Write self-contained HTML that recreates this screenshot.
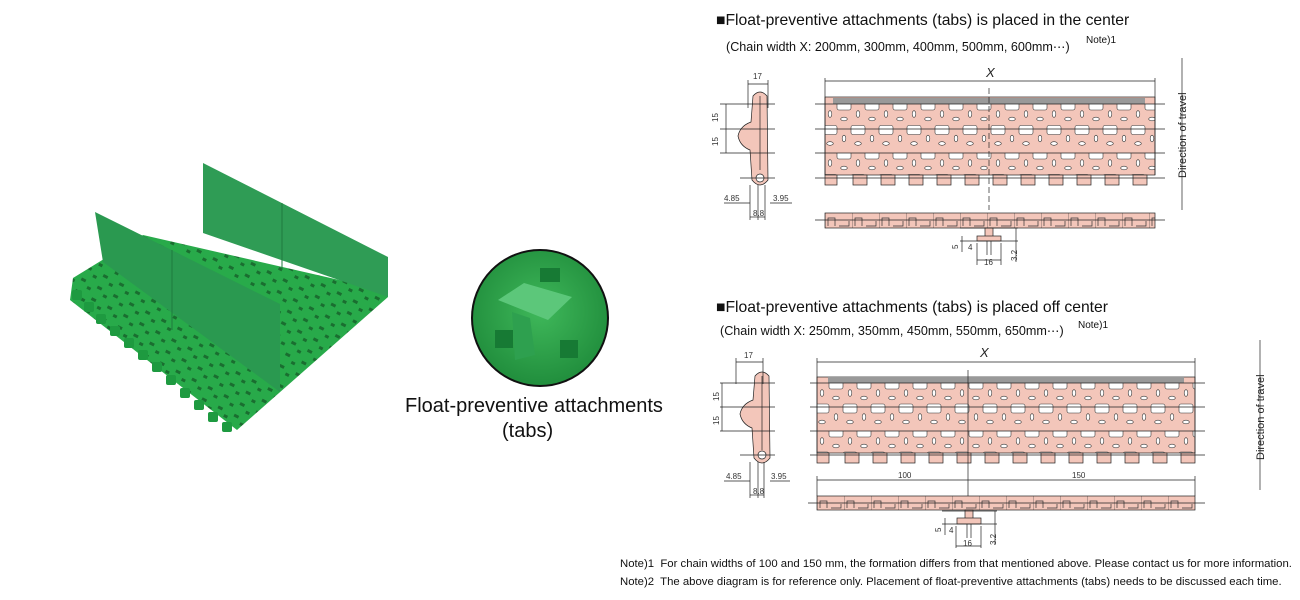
<!DOCTYPE html>
<html><head><meta charset="utf-8"><style>
html,body{margin:0;padding:0;background:#fff;}
body{width:1300px;height:600px;overflow:hidden;position:relative;font-family:"Liberation Sans",sans-serif;}
.t{position:absolute;white-space:nowrap;color:#111;}
</style></head><body>
<svg width="1300" height="600" style="position:absolute;left:0;top:0" xmlns="http://www.w3.org/2000/svg">
<defs>
<pattern id="pk" x="825" y="104" width="28" height="49" patternUnits="userSpaceOnUse">
<rect width="28" height="49" fill="#f3c6ba"/>
<rect x="12" y="-3" width="14" height="9" rx="2" fill="#fff" stroke="#333" stroke-width="0.6"/>
<ellipse cx="5" cy="10" rx="1.8" ry="3.3" fill="#fff" stroke="#333" stroke-width="0.6"/>
<ellipse cx="19" cy="15" rx="3.3" ry="1.8" fill="#fff" stroke="#333" stroke-width="0.6"/>
<rect x="-2" y="21.5" width="14" height="9" rx="2" fill="#fff" stroke="#333" stroke-width="0.6"/>
<rect x="26" y="21.5" width="14" height="9" rx="2" fill="#fff" stroke="#333" stroke-width="0.6"/>
<ellipse cx="19" cy="34.5" rx="1.8" ry="3.3" fill="#fff" stroke="#333" stroke-width="0.6"/>
<ellipse cx="5" cy="39.5" rx="3.3" ry="1.8" fill="#fff" stroke="#333" stroke-width="0.6"/>
</pattern>
<pattern id="pk2" x="817" y="383" width="28" height="48" patternUnits="userSpaceOnUse">
<rect width="28" height="48" fill="#f3c6ba"/>
<rect x="12" y="-3" width="14" height="9" rx="2" fill="#fff" stroke="#333" stroke-width="0.6"/>
<ellipse cx="5" cy="10" rx="1.8" ry="3.3" fill="#fff" stroke="#333" stroke-width="0.6"/>
<ellipse cx="19" cy="15" rx="3.3" ry="1.8" fill="#fff" stroke="#333" stroke-width="0.6"/>
<rect x="-2" y="21" width="14" height="9" rx="2" fill="#fff" stroke="#333" stroke-width="0.6"/>
<rect x="26" y="21" width="14" height="9" rx="2" fill="#fff" stroke="#333" stroke-width="0.6"/>
<ellipse cx="19" cy="34" rx="1.8" ry="3.3" fill="#fff" stroke="#333" stroke-width="0.6"/>
<ellipse cx="5" cy="39" rx="3.3" ry="1.8" fill="#fff" stroke="#333" stroke-width="0.6"/>
</pattern>
<pattern id="st" x="825" y="213" width="27" height="15" patternUnits="userSpaceOnUse">
<rect width="27" height="15" fill="#f3c6ba"/>
<path d="M3 13 V5 H10 V13 M14 13 H24 V8" fill="none" stroke="#333" stroke-width="0.7"/>
<line x1="0" y1="0" x2="0" y2="15" stroke="#333" stroke-width="0.6"/>
</pattern>
<pattern id="st2" x="817" y="496" width="27" height="14" patternUnits="userSpaceOnUse">
<rect width="27" height="14" fill="#f3c6ba"/>
<path d="M3 12 V5 H10 V12 M14 12 H24 V8" fill="none" stroke="#333" stroke-width="0.7"/>
<line x1="0" y1="0" x2="0" y2="14" stroke="#333" stroke-width="0.6"/>
</pattern>
<pattern id="holes" width="18" height="13" patternUnits="userSpaceOnUse" patternTransform="rotate(27)">
<rect width="18" height="13" fill="#28aa4a"/>
<rect x="1" y="2" width="5" height="3" fill="#1a6e30"/>
<rect x="10" y="7" width="4" height="3" fill="#1a6e30"/>
</pattern>
<radialGradient id="cg" cx="50%" cy="45%" r="60%"><stop offset="0" stop-color="#3fb85a"/><stop offset="1" stop-color="#1e8a3a"/></radialGradient>
</defs>

<polygon points="73,278 143,235 383,290 388,297 237,430 70,300" fill="url(#holes)"/>
<g fill="#1e9a40">
<rect x="72" y="290" width="10" height="10" rx="2"/><rect x="84" y="302" width="10" height="10" rx="2"/><rect x="96" y="314" width="10" height="10" rx="2"/>
<rect x="110" y="326" width="10" height="10" rx="2"/><rect x="124" y="338" width="10" height="10" rx="2"/><rect x="138" y="350" width="10" height="10" rx="2"/>
<rect x="152" y="362" width="10" height="10" rx="2"/><rect x="166" y="375" width="10" height="10" rx="2"/><rect x="180" y="388" width="10" height="10" rx="2"/>
<rect x="194" y="400" width="10" height="10" rx="2"/><rect x="208" y="412" width="10" height="10" rx="2"/><rect x="222" y="422" width="10" height="10" rx="2"/>
</g>
<polygon points="203,163 388,257 388,297 203,233" fill="#2f9c55"/>
<line x1="282" y1="203" x2="282" y2="270" stroke="#1f7a3e" stroke-width="1"/>
<polygon points="95,212 280,304 280,392 103,262" fill="#2a9950"/>
<line x1="172" y1="250" x2="172" y2="330" stroke="#1f7a3e" stroke-width="1"/>

<circle cx="540" cy="318" r="68" fill="url(#cg)" stroke="#111" stroke-width="2"/>
<polygon points="498,300 524,283 572,297 548,320" fill="#5cc77a"/>
<polygon points="512,312 530,318 535,355 515,360" fill="#2ea04f"/>
<rect x="495" y="330" width="18" height="18" fill="#177a34"/>
<rect x="560" y="340" width="18" height="18" fill="#177a34"/>
<rect x="540" y="268" width="20" height="14" fill="#177a34"/>

<g stroke="#222" stroke-width="0.7" fill="none">
<path d="M753 96 Q760 88 767 96 L768 180 Q760 190 752 180 L750 150 Q740 146 738 136 Q740 126 751 122 Z" fill="#f3c6ba"/>
<line x1="760" y1="96" x2="760" y2="170"/>
<circle cx="760" cy="178" r="4" fill="#fff"/>
<line x1="748" y1="80" x2="748" y2="108"/><line x1="768" y1="80" x2="768" y2="108"/><line x1="748" y1="84" x2="768" y2="84"/>
<line x1="720" y1="104" x2="775" y2="104"/><line x1="720" y1="129" x2="775" y2="129"/><line x1="720" y1="153" x2="775" y2="153"/><line x1="740" y1="178" x2="775" y2="178"/>
<line x1="726" y1="104" x2="726" y2="153"/>
<line x1="750" y1="185" x2="750" y2="220"/><line x1="758" y1="185" x2="758" y2="220"/><line x1="765" y1="185" x2="765" y2="220"/>
<line x1="724" y1="203" x2="750" y2="203"/><line x1="770" y1="203" x2="792" y2="203"/><line x1="750" y1="217" x2="765" y2="217"/>
<rect x="825" y="97" width="330" height="78" fill="url(#pk)"/>
<rect x="833" y="98" width="312" height="6" fill="#999" stroke="none"/>
<g fill="#f3c6ba" stroke="#222">
<rect x="825" y="175" width="12" height="10"/><rect x="853" y="175" width="14" height="10"/><rect x="881" y="175" width="14" height="10"/><rect x="909" y="175" width="14" height="10"/><rect x="937" y="175" width="14" height="10"/><rect x="965" y="175" width="14" height="10"/><rect x="993" y="175" width="14" height="10"/><rect x="1021" y="175" width="14" height="10"/><rect x="1049" y="175" width="14" height="10"/><rect x="1077" y="175" width="14" height="10"/><rect x="1105" y="175" width="14" height="10"/><rect x="1133" y="175" width="14" height="10"/>
</g>
<line x1="825" y1="97" x2="825" y2="175"/><line x1="1155" y1="97" x2="1155" y2="175"/>
<line x1="815" y1="104" x2="1165" y2="104"/><line x1="815" y1="129" x2="1165" y2="129"/><line x1="815" y1="153" x2="1165" y2="153"/><line x1="815" y1="178" x2="1165" y2="178"/>
<line x1="825" y1="81" x2="1155" y2="81"/><line x1="825" y1="78" x2="825" y2="97"/><line x1="1155" y1="78" x2="1155" y2="97"/>
<line x1="989" y1="88" x2="989" y2="210" stroke-dasharray="6,3"/>
<rect x="825" y="213" width="330" height="15" fill="url(#st)"/>
<line x1="815" y1="220" x2="1165" y2="220"/>
<rect x="985" y="228" width="8" height="11" fill="#f3c6ba"/>
<rect x="977" y="236" width="24" height="5" fill="#f3c6ba"/>
<line x1="960" y1="228" x2="1018" y2="228"/><line x1="960" y1="241" x2="1018" y2="241"/>
<line x1="962" y1="236" x2="962" y2="252"/><line x1="987" y1="241" x2="987" y2="255"/><line x1="991" y1="241" x2="991" y2="255"/>
<line x1="977" y1="243" x2="977" y2="265"/><line x1="1001" y1="243" x2="1001" y2="265"/><line x1="977" y1="260" x2="1001" y2="260"/>
<line x1="1016" y1="228" x2="1016" y2="262"/>
<line x1="1182" y1="58" x2="1182" y2="210"/>
</g>
<text x="986" y="77" font-family="Liberation Sans" font-size="13" font-style="italic" fill="#222">X</text>
<g font-family="Liberation Sans" font-size="8" fill="#333">
<text x="753" y="79">17</text><text x="718" y="122" transform="rotate(-90 718 122)">15</text><text x="718" y="146" transform="rotate(-90 718 146)">15</text>
<text x="724" y="201">4.85</text><text x="773" y="201">3.95</text><text x="753" y="216">8.8</text>
<text x="958" y="249" transform="rotate(-90 958 249)">5</text><text x="968" y="250">4</text><text x="984" y="265">16</text><text x="1017" y="261" transform="rotate(-90 1017 261)">3.2</text>
</g>
<text x="1186" y="178" font-family="Liberation Sans" font-size="11" fill="#222" transform="rotate(-90 1186 178)">Direction of travel</text>

<g stroke="#222" stroke-width="0.7" fill="none">
<path d="M755 376 Q762 368 769 376 L770 458 Q762 468 754 458 L752 428 Q742 424 740 414 Q742 404 753 400 Z" fill="#f3c6ba"/>
<line x1="762" y1="376" x2="762" y2="450"/>
<circle cx="762" cy="455" r="4" fill="#fff"/>
<line x1="736" y1="358" x2="736" y2="384"/><line x1="763" y1="358" x2="763" y2="384"/><line x1="736" y1="362" x2="763" y2="362"/>
<line x1="720" y1="383" x2="775" y2="383"/><line x1="720" y1="407" x2="775" y2="407"/><line x1="720" y1="431" x2="775" y2="431"/><line x1="740" y1="455" x2="775" y2="455"/>
<line x1="722" y1="383" x2="722" y2="431"/>
<line x1="750" y1="462" x2="750" y2="498"/><line x1="758" y1="462" x2="758" y2="498"/><line x1="764" y1="462" x2="764" y2="498"/>
<line x1="724" y1="481" x2="750" y2="481"/><line x1="770" y1="481" x2="790" y2="481"/><line x1="750" y1="495" x2="764" y2="495"/>
<rect x="817" y="377" width="378" height="76" fill="url(#pk2)"/>
<rect x="828" y="377" width="356" height="6" fill="#999" stroke="none"/>
<g fill="#f3c6ba" stroke="#222">
<rect x="817" y="453" width="12" height="10"/><rect x="845" y="453" width="14" height="10"/><rect x="873" y="453" width="14" height="10"/><rect x="901" y="453" width="14" height="10"/><rect x="929" y="453" width="14" height="10"/><rect x="957" y="453" width="14" height="10"/><rect x="985" y="453" width="14" height="10"/><rect x="1013" y="453" width="14" height="10"/><rect x="1041" y="453" width="14" height="10"/><rect x="1069" y="453" width="14" height="10"/><rect x="1097" y="453" width="14" height="10"/><rect x="1125" y="453" width="14" height="10"/><rect x="1153" y="453" width="14" height="10"/><rect x="1181" y="453" width="14" height="10"/>
</g>
<line x1="817" y1="377" x2="817" y2="453"/><line x1="1195" y1="377" x2="1195" y2="453"/>
<line x1="810" y1="383" x2="1205" y2="383"/><line x1="810" y1="407" x2="1205" y2="407"/><line x1="810" y1="431" x2="1205" y2="431"/><line x1="810" y1="455" x2="1205" y2="455"/>
<line x1="817" y1="362" x2="1195" y2="362"/><line x1="817" y1="358" x2="817" y2="377"/><line x1="1195" y1="358" x2="1195" y2="377"/>
<line x1="968" y1="370" x2="968" y2="510"/>
<line x1="817" y1="480" x2="1195" y2="480"/><line x1="817" y1="476" x2="817" y2="496"/><line x1="1195" y1="476" x2="1195" y2="496"/>
<rect x="817" y="496" width="378" height="14" fill="url(#st2)"/>
<line x1="808" y1="503" x2="1205" y2="503"/>
<rect x="965" y="510" width="8" height="10" fill="#f3c6ba"/>
<rect x="957" y="518" width="24" height="6" fill="#f3c6ba"/>
<line x1="942" y1="511" x2="997" y2="511"/><line x1="942" y1="524" x2="997" y2="524"/>
<line x1="945" y1="518" x2="945" y2="535"/><line x1="967" y1="524" x2="967" y2="538"/><line x1="971" y1="524" x2="971" y2="538"/>
<line x1="956" y1="526" x2="956" y2="548"/><line x1="981" y1="526" x2="981" y2="548"/><line x1="956" y1="546" x2="981" y2="546"/>
<line x1="995" y1="511" x2="995" y2="545"/>
<line x1="1260" y1="340" x2="1260" y2="490"/>
</g>
<text x="980" y="357" font-family="Liberation Sans" font-size="13" font-style="italic" fill="#222">X</text>
<g font-family="Liberation Sans" font-size="8" fill="#333">
<text x="744" y="358">17</text><text x="719" y="401" transform="rotate(-90 719 401)">15</text><text x="719" y="425" transform="rotate(-90 719 425)">15</text>
<text x="726" y="479">4.85</text><text x="771" y="479">3.95</text><text x="753" y="494">8.8</text>
<text x="898" y="478">100</text><text x="1072" y="478">150</text>
<text x="941" y="532" transform="rotate(-90 941 532)">5</text><text x="949" y="533">4</text><text x="963" y="546">16</text><text x="996" y="545" transform="rotate(-90 996 545)">3.2</text>
</g>
<text x="1264" y="460" font-family="Liberation Sans" font-size="11" fill="#222" transform="rotate(-90 1264 460)">Direction of travel</text>
</svg>

<div class="t" style="left:405px;top:395px;font-size:20px;">Float-preventive attachments</div>
<div class="t" style="left:502px;top:420px;font-size:20px;">(tabs)</div>

<div class="t" style="left:716px;top:12px;font-size:15.7px;">■Float-preventive attachments (tabs) is placed in the center</div>
<div class="t" style="left:726px;top:39px;font-size:12.6px;">(Chain width X: 200mm, 300mm, 400mm, 500mm, 600mm⋯)</div>
<div class="t" style="left:1086px;top:35px;font-size:10px;">Note)1</div>

<div class="t" style="left:716px;top:299px;font-size:15.7px;">■Float-preventive attachments (tabs) is placed off center</div>
<div class="t" style="left:720px;top:323px;font-size:12.6px;">(Chain width X: 250mm, 350mm, 450mm, 550mm, 650mm⋯)</div>
<div class="t" style="left:1078px;top:320px;font-size:10px;">Note)1</div>

<div class="t" style="left:620px;top:558px;font-size:11.35px;">Note)1&nbsp; For chain widths of 100 and 150 mm, the formation differs from that mentioned above. Please contact us for more information.</div>
<div class="t" style="left:620px;top:576px;font-size:11.35px;">Note)2&nbsp; The above diagram is for reference only. Placement of float-preventive attachments (tabs) needs to be discussed each time.</div>
</body></html>
